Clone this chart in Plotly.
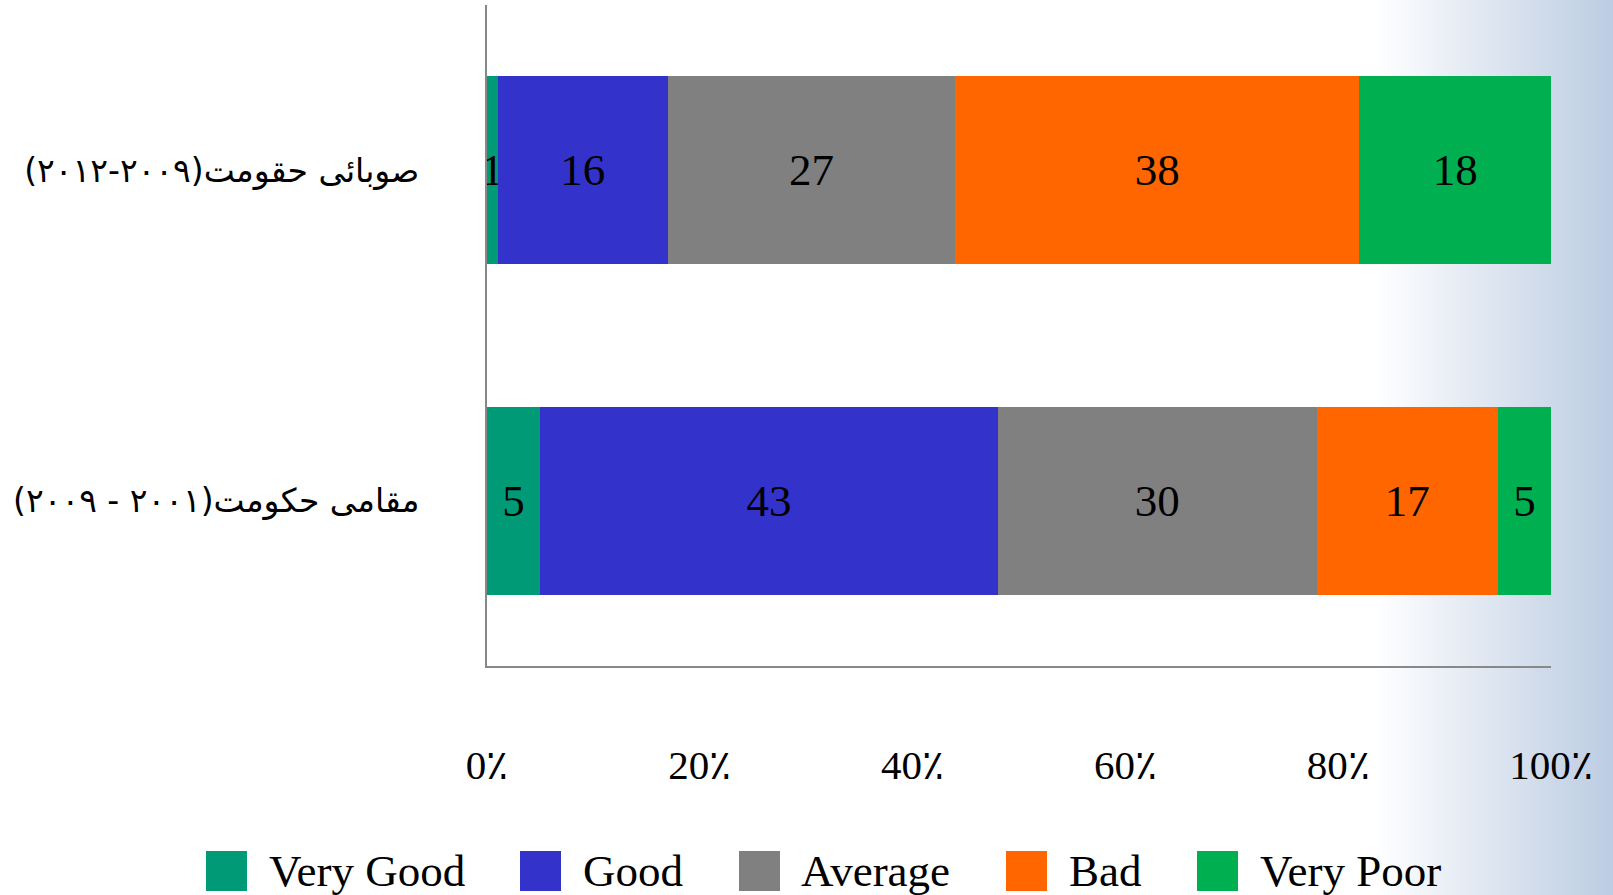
import base64
import plotly.graph_objects as go

RLM = "\u200f"
categories = [RLM + "صوبائی حقومت(۲۰۰۹-۲۰۱۲)" + RLM, RLM + "مقامی حکومت(۲۰۰۱ - ۲۰۰۹)" + RLM]
series_names = ["Very Good", "Good", "Average", "Bad", "Very Poor"]
very_good = [1, 5]
good = [16, 43]
average = [27, 30]
bad = [38, 17]
very_poor = [18, 5]
series_values = [very_good, good, average, bad, very_poor]
colors = ["#009A77", "#3333CC", "#808080", "#FF6600", "#00B050"]
tick_vals = [0, 20, 40, 60, 80, 100]
tick_text = ["0٪", "20٪", "40٪", "60٪", "80٪", "100٪"]

# figure geometry (pixels)
W, H = 1613, 895
L, R, T, B = 487, 62, 5, 229
PW, PH = W - L - R, H - T - B


def px_x(p):
    return (p - L) / PW


def px_y(p):
    return (H - B - p) / PH


fig = go.Figure()
for name, vals, col in zip(series_names, series_values, colors):
    fig.add_trace(go.Bar(
        y=categories, x=vals, name=name, orientation="h",
        marker=dict(color=col, line=dict(width=0)),
        text=[str(v) for v in vals], textposition="inside",
        insidetextanchor="middle", textangle=0, constraintext="none",
        textfont=dict(family="Liberation Serif", size=45, color="black"),
        showlegend=False, hoverinfo="skip",
    ))

# background gradient on the right
svg = ('<svg xmlns="http://www.w3.org/2000/svg" width="238" height="895">'
       '<defs><linearGradient id="g" x1="0" y1="0" x2="1" y2="0">'
       '<stop offset="0" stop-color="#FFFFFF"/><stop offset="1" stop-color="#BCCCE2"/>'
       '</linearGradient></defs><rect width="238" height="895" fill="url(#g)"/></svg>')
src = "data:image/svg+xml;base64," + base64.b64encode(svg.encode()).decode()
fig.add_layout_image(dict(
    source=src, xref="paper", yref="paper",
    x=px_x(1375), y=px_y(0), sizex=px_x(W) - px_x(1375), sizey=px_y(0) - px_y(H),
    xanchor="left", yanchor="top", sizing="stretch", layer="below",
))

# manual legend
legend_items = [
    (206, 267), (520, 581), (739, 799), (1006, 1067), (1197, 1258),
]
for (sx, tx), name, col in zip(legend_items, series_names, colors):
    fig.add_shape(type="rect", xref="paper", yref="paper",
                  x0=px_x(sx), x1=px_x(sx + 41), y0=px_y(891), y1=px_y(851),
                  fillcolor=col, line=dict(width=0))
    fig.add_annotation(xref="paper", yref="paper", x=px_x(tx), y=px_y(871),
                       text=name, showarrow=False, xanchor="left", yanchor="middle",
                       font=dict(family="Liberation Serif", size=45, color="black"))

fig.update_layout(
    width=W, height=H,
    margin=dict(l=L, r=R, t=T, b=B, autoexpand=False),
    barmode="stack", bargap=0.43,
    paper_bgcolor="white", plot_bgcolor="rgba(0,0,0,0)",
    showlegend=False,
    xaxis=dict(range=[0, 100], tickvals=tick_vals, ticktext=tick_text,
               showgrid=False, zeroline=False, showline=True, linecolor="#888888",
               linewidth=2, ticks="", ticklabelstandoff=62,
               tickfont=dict(family="Liberation Serif", size=41, color="black")),
    yaxis=dict(autorange="reversed", showgrid=False, zeroline=False, showline=True,
               linecolor="#888888", linewidth=2, ticks="", ticklabelstandoff=59,
               tickfont=dict(family="DejaVu Sans", size=33, color="black")),
)

fig.write_html("out.html", config={"displayModeBar": False},
               post_script="document.body.style.margin='0px';document.body.style.overflow='hidden';")
